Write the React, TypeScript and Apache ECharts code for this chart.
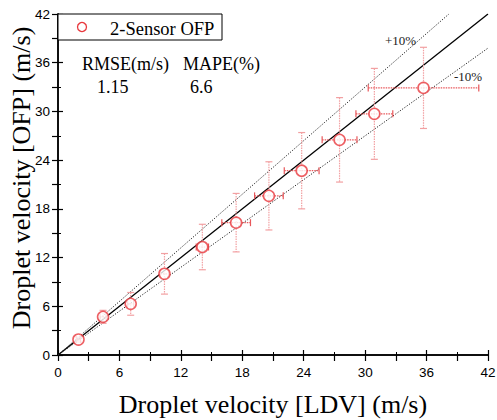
import React, { useEffect, useRef } from "react";
import * as echarts from "echarts";

const seriesName = "2-Sensor OFP";
const ldv = [2.0, 4.4, 7.1, 10.4, 14.1, 17.4, 20.6, 23.8, 27.5, 30.9, 35.7];
const ofp = [1.9, 4.7, 6.3, 10.0, 13.3, 16.3, 19.6, 22.7, 26.5, 29.7, 32.9];
const ldvErr = [0.2, 0.3, 0.3, 0.4, 0.6, 1.4, 1.4, 1.7, 1.7, 1.8, 5.4];
const ofpErr = [0.3, 0.8, 1.4, 2.5, 2.8, 3.6, 4.2, 4.7, 5.2, 5.6, 5.0];
const axisMin = 0;
const axisMax = 42;
const labelInterval = 6;
const refSlopes = [1, 1.1, 0.9];
const statHeaders = ["RMSE(m/s)", "MAPE(%)"];
const statValues = ["1.15", "6.6"];
const refLabels = ["+10%", "-10%"];

const RED = "#e8383d";
const SERIF = "Liberation Serif";
const SANS = "Liberation Sans";

export default function App() {
  const ref = useRef<HTMLDivElement>(null);
  useEffect(() => {
    if (!ref.current) return;
    const chart = echarts.init(ref.current, null, { renderer: "svg" });
    const pts = ldv.map((x, i) => [x, ofp[i], ldvErr[i], ofpErr[i]]);
    const refData = refSlopes.map((s) =>
      s >= 1 ? [[0, 0], [axisMax / s, axisMax]] : [[0, 0], [axisMax, axisMax * s]]
    );
    const mainAxis = {
      min: axisMin,
      max: axisMax,
      interval: labelInterval,
      axisLine: { show: true, lineStyle: { color: "#000", width: 1.5 } },
      axisTick: { show: true, inside: true, length: 5, lineStyle: { color: "#000", width: 1.2 } },
      minorTick: { show: true, splitNumber: 2, length: 3, lineStyle: { color: "#000", width: 1 } },
      splitLine: { show: false },
      axisLabel: { color: "#000", fontFamily: SANS, fontSize: 13.5 },
      nameLocation: "middle",
      nameMoveOverlap: false,
    };
    const sideAxis = {
      min: axisMin,
      max: axisMax,
      interval: labelInterval / 2,
      axisLine: { show: true, lineStyle: { color: "#000", width: 1.5 } },
      axisTick: { show: true, inside: true, length: 6, lineStyle: { color: "#000", width: 1.2 } },
      splitLine: { show: false },
      axisLabel: { show: false },
    };
    const f = (size: number) => `${size}px "${SERIF}"`;
    chart.setOption({
      animation: false,
      grid: { left: 58, right: 9, top: 14, bottom: 65, containLabel: false, outerBoundsMode: "none" },
      xAxis: [
        {
          ...mainAxis, type: "value", position: "bottom", name: "Droplet velocity [LDV] (m/s)", nameGap: 36,
          nameTextStyle: { color: "#000", fontFamily: SERIF, fontSize: 26 },
          axisLabel: { ...mainAxis.axisLabel, margin: 10 },
        },
        { ...sideAxis, type: "value", position: "top" },
      ],
      yAxis: [
        {
          ...mainAxis, type: "value", position: "left", name: "Droplet velocity [OFP] (m/s)", nameGap: 24,
          nameTextStyle: { color: "#000", fontFamily: SERIF, fontSize: 26, padding: [0, 0, 0, 13] },
          axisLabel: { ...mainAxis.axisLabel, margin: 8 },
        },
        { ...sideAxis, type: "value", position: "right" },
      ],
      series: [
        ...refData.map((d, i) => ({
          type: "line",
          data: d,
          silent: true,
          showSymbol: false,
          symbol: "none",
          z: 1,
          lineStyle: i === 0
            ? { color: "#000", width: 1.3 }
            : { color: "#222", width: 1, type: [1.2, 1.6] },
        })),
        {
          type: "custom",
          silent: true,
          z: 2,
          data: pts,
          renderItem: (params: any, api: any) => {
            const x = api.value(0), y = api.value(1), ex = api.value(2), ey = api.value(3);
            const c = api.coord([x, y]);
            const top = api.coord([x, y + ey]);
            const bot = api.coord([x, y - ey]);
            const lft = api.coord([x - ex, y]);
            const rgt = api.coord([x + ex, y]);
            const cap = 3.5;
            const vStyle = { stroke: "#f2a0a2", lineWidth: 1.2, lineDash: [1.5, 1] };
            const vCap = { stroke: "#f2a0a2", lineWidth: 1.2 };
            const hStyle = { stroke: "#e8575a", lineWidth: 1.2, lineDash: [1.5, 1] };
            const hCap = { stroke: "#e8575a", lineWidth: 1.2 };
            return {
              type: "group",
              children: [
                { type: "line", shape: { x1: top[0], y1: top[1], x2: bot[0], y2: bot[1] }, style: vStyle },
                { type: "line", shape: { x1: top[0] - cap, y1: top[1], x2: top[0] + cap, y2: top[1] }, style: vCap },
                { type: "line", shape: { x1: bot[0] - cap, y1: bot[1], x2: bot[0] + cap, y2: bot[1] }, style: vCap },
                { type: "line", shape: { x1: lft[0], y1: c[1], x2: rgt[0], y2: c[1] }, style: hStyle },
                { type: "line", shape: { x1: lft[0], y1: c[1] - cap, x2: lft[0], y2: c[1] + cap }, style: hCap },
                { type: "line", shape: { x1: rgt[0], y1: c[1] - cap, x2: rgt[0], y2: c[1] + cap }, style: hCap },
              ],
            };
          },
        },
        {
          name: seriesName,
          type: "scatter",
          z: 3,
          data: pts.map((p) => [p[0], p[1]]),
          symbol: "circle",
          symbolSize: 11,
          itemStyle: { color: "#fff", borderColor: RED, borderWidth: 1.6 },
        },
      ],
      graphic: [
        { type: "rect", shape: { x: 58, y: 14, width: 164, height: 26 }, style: { fill: "#fff", stroke: "#000", lineWidth: 1 }, z: 10 },
        { type: "circle", shape: { cx: 82, cy: 27, r: 4.5 }, style: { fill: "#fff", stroke: RED, lineWidth: 1.3 }, z: 11 },
        { type: "text", x: 110, y: 28.5, style: { text: seriesName, font: f(18.5), fill: "#000", verticalAlign: "middle" }, z: 11 },
        { type: "text", x: 82, y: 64, style: { text: statHeaders[0], font: f(18), fill: "#000", verticalAlign: "middle" }, z: 11 },
        { type: "text", x: 183, y: 64, style: { text: statHeaders[1], font: f(18), fill: "#000", verticalAlign: "middle" }, z: 11 },
        { type: "text", x: 97, y: 87, style: { text: statValues[0], font: f(18), fill: "#000", verticalAlign: "middle" }, z: 11 },
        { type: "text", x: 190, y: 87, style: { text: statValues[1], font: f(18), fill: "#000", verticalAlign: "middle" }, z: 11 },
        { type: "text", x: 385, y: 40, style: { text: refLabels[0], font: f(13), fill: "#222", verticalAlign: "middle" }, z: 11 },
        { type: "text", x: 454, y: 76, style: { text: refLabels[1], font: f(13), fill: "#222", verticalAlign: "middle" }, z: 11 },
      ],
    });
    return () => chart.dispose();
  }, []);
  return <div ref={ref} style={{ width: 497, height: 420, position: "absolute", left: 0, top: 0 }} />;
}
